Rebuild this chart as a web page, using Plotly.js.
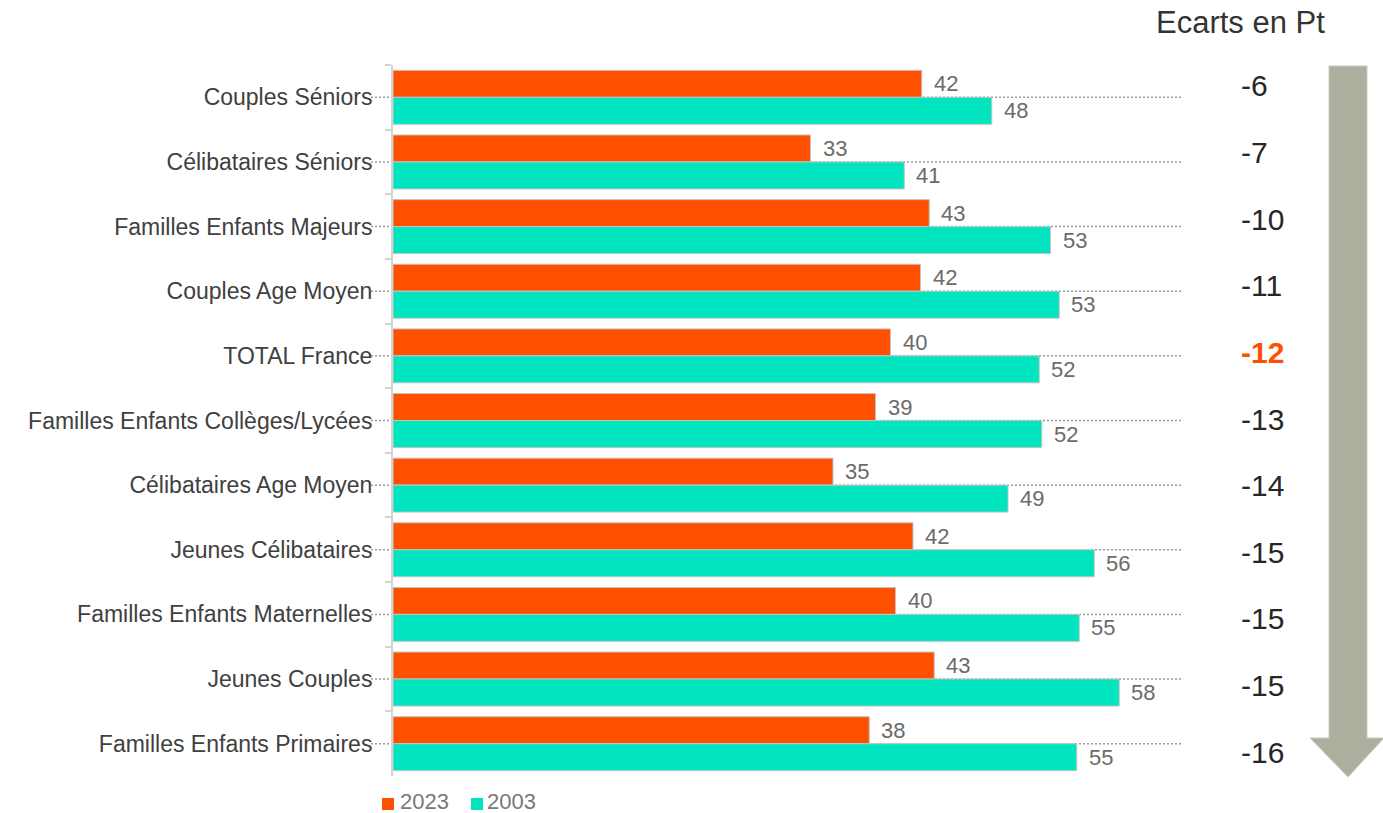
<!DOCTYPE html>
<html>
<head>
<meta charset="utf-8">
<script src="https://cdn.plot.ly/plotly-3.0.1.min.js"></script>
<style>
html,body{margin:0;padding:0;background:#fff;}
#chart{width:1383px;height:813px;}
</style>
</head>
<body>
<div id="chart"></div>
<script>
// ---- data ----
const categories = [
  "Couples Séniors",
  "Célibataires Séniors",
  "Familles Enfants Majeurs",
  "Couples Age Moyen",
  "TOTAL France",
  "Familles Enfants Collèges/Lycées",
  "Célibataires Age Moyen",
  "Jeunes Célibataires",
  "Familles Enfants Maternelles",
  "Jeunes Couples",
  "Familles Enfants Primaires"
];
const seriesNames = ["2023", "2003"];
const values2023 = [42.3, 33.4, 42.9, 42.2, 39.8, 38.6, 35.2, 41.6, 40.2, 43.3, 38.1];
const values2003 = [47.9, 40.9, 52.6, 53.3, 51.7, 51.9, 49.2, 56.1, 54.9, 58.1, 54.7];
const ecarts = [-6, -7, -10, -11, -12, -13, -14, -15, -15, -15, -16];
const highlightCategory = "TOTAL France";
const ecartsTitle = "Ecarts en Pt";

// ---- styling ----
const ORANGE = "#FF5000";
const TEAL = "#00E5BF";
const FONT = "Liberation Sans, Arial, sans-serif";

// plot area in pixels
const L = 393, R = 1183, T = 65, B = 776;
const PX = px => (px - L) / (R - L);
const PY = py => (B - py) / (B - T);

const traces = [
  {
    type: "bar", orientation: "h", name: seriesNames[0],
    y: categories, x: values2023,
    marker: {color: ORANGE, line: {color: "#c4c4c4", width: 1}},
    hoverinfo: "skip"
  },
  {
    type: "bar", orientation: "h", name: seriesNames[1],
    y: categories, x: values2003,
    marker: {color: TEAL, line: {color: "#c4c4c4", width: 1}},
    hoverinfo: "skip"
  }
];

const annotations = [];
const shapes = [];

// value labels
const barShift = 13.5;
[values2023, values2003].forEach((vals, s) => {
  vals.forEach((v, i) => {
    annotations.push({
      x: v, y: categories[i], xref: "x", yref: "y",
      text: String(Math.round(v)),
      showarrow: false, xanchor: "left", yanchor: "middle",
      xshift: 10, yshift: s === 0 ? barShift : -barShift,
      font: {family: FONT, size: 22, color: "#6b6b6b"}
    });
  });
});

// dotted gridlines at category centres
categories.forEach(c => {
  shapes.push({
    type: "line", layer: "below", xref: "paper", yref: "y",
    x0: PX(371), x1: 1, y0: c, y1: c,
    line: {color: "#9a9a9a", width: 1.5, dash: "2px,2px"}
  });
});

// ecarts column
annotations.push({
  xref: "paper", yref: "paper", x: PX(1154), y: PY(22),
  text: ecartsTitle, showarrow: false, xanchor: "left", yanchor: "middle",
  font: {family: FONT, size: 31, color: "#333333"}
});
ecarts.forEach((e, i) => {
  const hl = categories[i] === highlightCategory;
  annotations.push({
    xref: "paper", yref: "paper", x: PX(1239), y: PY(86 + i * 66.6),
    text: hl ? "<b>" + e + "</b>" : String(e),
    showarrow: false, xanchor: "left", yanchor: "middle",
    font: {family: FONT, size: 30, color: hl ? ORANGE : "#262626"}
  });
});

// big downward arrow
const ap = [
  [1329, 66], [1367, 66], [1367, 738], [1384, 738], [1348, 777],
  [1310, 738], [1329, 738]
];
shapes.push({
  type: "path", xref: "paper", yref: "paper", layer: "above",
  path: "M " + ap.map(p => PX(p[0]) + "," + PY(p[1])).join(" L ") + " Z",
  fillcolor: "#ADAE9E", line: {color: "#c9cabf", width: 1}
});

// legend (manual)
const legendItems = [
  {name: seriesNames[0], color: ORANGE, sq: 382, tx: 399},
  {name: seriesNames[1], color: TEAL, sq: 471, tx: 486}
];
legendItems.forEach(it => {
  shapes.push({
    type: "rect", xref: "paper", yref: "paper",
    x0: PX(it.sq), x1: PX(it.sq + 12), y0: PY(810), y1: PY(798),
    fillcolor: it.color, line: {width: 0}
  });
  annotations.push({
    xref: "paper", yref: "paper", x: PX(it.tx), y: PY(801),
    text: it.name, showarrow: false, xanchor: "left", yanchor: "middle",
    borderpad: 0,
    font: {family: FONT, size: 22, color: "#787878"}
  });
});

const layout = {
  width: 1383, height: 813,
  margin: {l: L, r: 1383 - R, t: T, b: 813 - B, pad: 0},
  paper_bgcolor: "#ffffff", plot_bgcolor: "#ffffff",
  barmode: "group", bargap: 0.165, bargroupgap: 0,
  showlegend: false,
  font: {family: FONT, color: "#404040"},
  xaxis: {
    range: [0, (R - L) / 12.5], visible: false, showgrid: false, zeroline: false, fixedrange: true
  },
  yaxis: {
    type: "category", autorange: "reversed",
    tickson: "boundaries", ticks: "outside", ticklen: 6, tickwidth: 2, tickcolor: "#d4d4d4",
    showline: true, linecolor: "#d4d4d4", linewidth: 2,
    showgrid: false, zeroline: false,
    ticklabelstandoff: 14,
    tickfont: {family: FONT, size: 23, color: "#404040"},
    fixedrange: true
  },
  shapes: shapes,
  annotations: annotations
};

Plotly.newPlot("chart", traces, layout, {displayModeBar: false, staticPlot: true});
</script>
</body>
</html>
